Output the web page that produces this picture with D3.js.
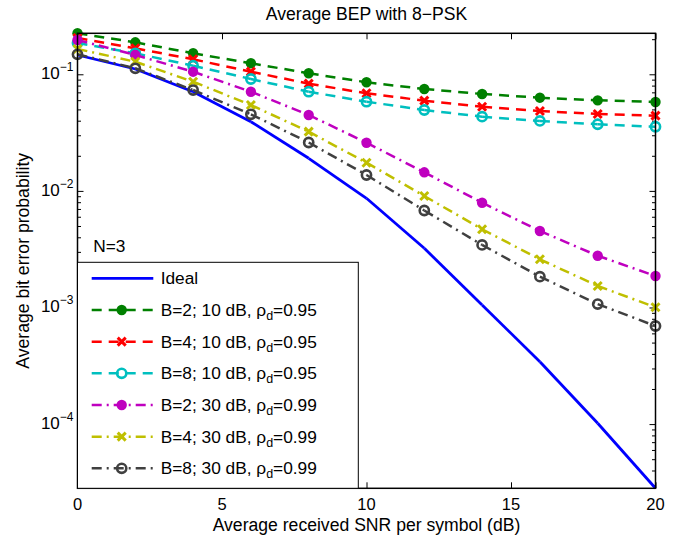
<!DOCTYPE html>
<html lang="en">
<head>
<meta charset="utf-8">
<title>Average BEP with 8-PSK</title>
<style>
  body { margin: 0; background: #fff; }
  text { font-family: "Liberation Sans", Arial, Helvetica, sans-serif; fill: #000; }
</style>
</head>
<body>
<svg id="chart" width="685" height="537"></svg>
<script src="https://cdn.jsdelivr.net/npm/d3@7"></script>
<script>
// SNR points (dB)
const snr = [0, 2, 4, 6, 8, 10, 12, 14, 16, 18, 20];

// average bit error probability
const ideal   = [0.1464, 0.1110, 0.0709, 0.0392, 0.01904, 0.00864, 0.00322, 0.00105, 3.43e-4, 1.016e-4, 2.814e-5];
const b2_10dB = [0.2247, 0.1881, 0.1514, 0.1243, 0.1020, 0.0854, 0.0748, 0.0678, 0.0630, 0.0598, 0.0579];
const b4_10dB = [0.2048, 0.1671, 0.1345, 0.1053, 0.0831, 0.0687, 0.0594, 0.0527, 0.0484, 0.0457, 0.0442];
const b8_10dB = [0.1855, 0.1514, 0.1185, 0.0911, 0.0709, 0.0582, 0.0494, 0.0433, 0.0398, 0.0373, 0.0355];
const b2_30dB = [0.1969, 0.1464, 0.1053, 0.0709, 0.0448, 0.0259, 0.01443, 0.00792, 0.00453, 0.00278, 0.001863];
const b4_30dB = [0.1648, 0.1282, 0.0864, 0.0545, 0.0322, 0.01745, 0.00904, 0.00469, 0.00259, 0.00153, 0.001004];
const b8_30dB = [0.1484, 0.1126, 0.0733, 0.0454, 0.0260, 0.01369, 0.00679, 0.00344, 0.001837, 0.00107, 0.000694];

const xTicks = [0, 5, 10, 15, 20];
const yMajor = [1e-4, 1e-3, 1e-2, 1e-1];
const yExp   = ["\u22124", "\u22123", "\u22122", "\u22121"];

const labels = [
  ["Ideal"],
  ["B=2; 10 dB, \u03c1", "d", "=0.95"],
  ["B=4; 10 dB, \u03c1", "d", "=0.95"],
  ["B=8; 10 dB, \u03c1", "d", "=0.95"],
  ["B=2; 30 dB, \u03c1", "d", "=0.99"],
  ["B=4; 30 dB, \u03c1", "d", "=0.99"],
  ["B=8; 30 dB, \u03c1", "d", "=0.99"]
];

const series = [
  {values: ideal,   color: "#0000ff", dash: null,         marker: null},
  {values: b2_10dB, color: "#008000", dash: "10,7",       marker: "dot"},
  {values: b4_10dB, color: "#ff0000", dash: "10,7",       marker: "x"},
  {values: b8_10dB, color: "#00bfbf", dash: "10,7",       marker: "o"},
  {values: b2_30dB, color: "#bf00bf", dash: "10,5,2,5",   marker: "dot"},
  {values: b4_30dB, color: "#bfbf00", dash: "10,5,2,5",   marker: "x"},
  {values: b8_30dB, color: "#404040", dash: "10,5,2,5",   marker: "o"}
];

const svg = d3.select("#chart");
const L = 77.5, R = 655.5, T = 33.3, B = 488.3;

const x = d3.scaleLinear().domain([0, 20]).range([L, R]);
const y = d3.scaleLog().domain([d3.min(ideal), d3.max(b2_10dB)]).range([B, T]);

// minor ticks 2..9 per decade
const yMinor = [];
for (let e = -5; e <= 0; e++) {
  for (let m = 2; m <= 9; m++) {
    const v = m * Math.pow(10, e);
    if (v > y.domain()[0] && v < y.domain()[1]) yMinor.push(v);
  }
}

const axes = svg.append("g").attr("stroke-width", 1);

axes.append("g").attr("transform", `translate(0,${B})`)
  .call(d3.axisBottom(x).tickValues(xTicks).tickSize(-6).tickSizeOuter(0).tickFormat(""));
axes.append("g").attr("transform", `translate(0,${T})`)
  .call(d3.axisTop(x).tickValues(xTicks).tickSize(-6).tickSizeOuter(0).tickFormat(""));
axes.append("g").attr("transform", `translate(${L},0)`)
  .call(d3.axisLeft(y).tickValues(yMajor).tickSize(-6).tickSizeOuter(0).tickFormat(""));
axes.append("g").attr("transform", `translate(${R},0)`)
  .call(d3.axisRight(y).tickValues(yMajor).tickSize(-6).tickSizeOuter(0).tickFormat(""));
axes.append("g").attr("transform", `translate(${L},0)`)
  .call(d3.axisLeft(y).tickValues(yMinor).tickSize(-3.5).tickSizeOuter(0).tickFormat(""));
axes.append("g").attr("transform", `translate(${R},0)`)
  .call(d3.axisRight(y).tickValues(yMinor).tickSize(-3.5).tickSizeOuter(0).tickFormat(""));
axes.selectAll(".domain").remove();
axes.selectAll(".tick line").attr("stroke", "#000");

// tick labels
svg.append("g").selectAll("text").data(xTicks).join("text")
  .attr("x", d => x(d)).attr("y", B + 21.5)
  .attr("text-anchor", "middle").attr("font-size", 16.5)
  .text(d => d);

const yl = svg.append("g").selectAll("text").data(yMajor).join("text")
  .attr("x", L - 4).attr("y", d => y(d) + 5)
  .attr("text-anchor", "end").attr("font-size", 17);
yl.append("tspan").text("10");
yl.append("tspan").attr("dy", -8).attr("font-size", 12).text((d, i) => yExp[i]);

// lines, dash pattern restarts at each point
const line = d3.line().x(d => x(d[0])).y(d => y(d[1]));
const plot = svg.append("g");
series.forEach(s => {
  const pts = snr.map((v, i) => [v, s.values[i]]);
  const g = plot.append("g");
  g.selectAll("path").data(d3.pairs(pts)).join("path")
    .attr("d", d => line(d))
    .attr("fill", "none")
    .attr("stroke", s.color)
    .attr("stroke-width", s.marker ? 2.5 : 2.8)
    .attr("stroke-dasharray", s.dash);
  if (s.marker) drawMarkers(g, pts.map(p => [x(p[0]), y(p[1])]), s);
});

function drawMarkers(g, pts, s) {
  if (s.marker === "dot") {
    g.selectAll("circle").data(pts).join("circle")
      .attr("cx", d => d[0]).attr("cy", d => d[1]).attr("r", 5.2)
      .attr("fill", s.color);
  } else if (s.marker === "o") {
    g.selectAll("circle").data(pts).join("circle")
      .attr("cx", d => d[0]).attr("cy", d => d[1]).attr("r", 4.6)
      .attr("fill", "none").attr("stroke", s.color).attr("stroke-width", 2.6);
  } else {
    g.selectAll("path.mk").data(pts).join("path").attr("class", "mk")
      .attr("d", d => `M${d[0]-4},${d[1]-4}L${d[0]+4},${d[1]+4}M${d[0]-4},${d[1]+4}L${d[0]+4},${d[1]-4}`)
      .attr("stroke", s.color).attr("stroke-width", 3).attr("fill", "none");
  }
}

// axes box
svg.append("rect").attr("x", L).attr("y", T).attr("width", R - L).attr("height", B - T)
  .attr("fill", "none").attr("stroke", "#000").attr("stroke-width", 1.5);

// legend
const lg = svg.append("g");
const lgTop = 262.3, lgRight = 358.3;
lg.append("rect").attr("x", L).attr("y", lgTop).attr("width", lgRight - L).attr("height", B - lgTop)
  .attr("fill", "#fff").attr("stroke", "#000").attr("stroke-width", 1);
series.forEach((s, i) => {
  const cy = 278.3 + i * 31.67;
  const row = lg.append("g");
  row.append("path").attr("d", `M91.7,${cy}L153.3,${cy}`)
    .attr("stroke", s.color).attr("stroke-width", s.marker ? 2.5 : 2.8)
    .attr("stroke-dasharray", s.dash).attr("fill", "none");
  if (s.marker) drawMarkers(row, [[121.7, cy]], s);
  const t = row.append("text").attr("x", 160.7).attr("y", cy + 6).attr("font-size", 17.3);
  t.append("tspan").text(labels[i][0]);
  if (labels[i].length > 1) {
    t.append("tspan").attr("dy", 4).attr("font-size", 12.5).text(labels[i][1]);
    t.append("tspan").attr("dy", -4).text(labels[i][2]);
  }
});

svg.append("text").attr("x", 93.3).attr("y", 251.7).attr("font-size", 17.3).text("N=3");

// titles
svg.append("text").attr("x", (L + R) / 2).attr("y", 20)
  .attr("text-anchor", "middle").attr("font-size", 17.6).text("Average BEP with 8\u2212PSK");
svg.append("text").attr("x", (L + R) / 2).attr("y", 531)
  .attr("text-anchor", "middle").attr("font-size", 17.6).text("Average received SNR per symbol (dB)");
svg.append("text").attr("transform", `translate(29,${(T + B) / 2}) rotate(-90)`)
  .attr("text-anchor", "middle").attr("font-size", 17.6).text("Average bit error probability");
</script>
</body>
</html>
